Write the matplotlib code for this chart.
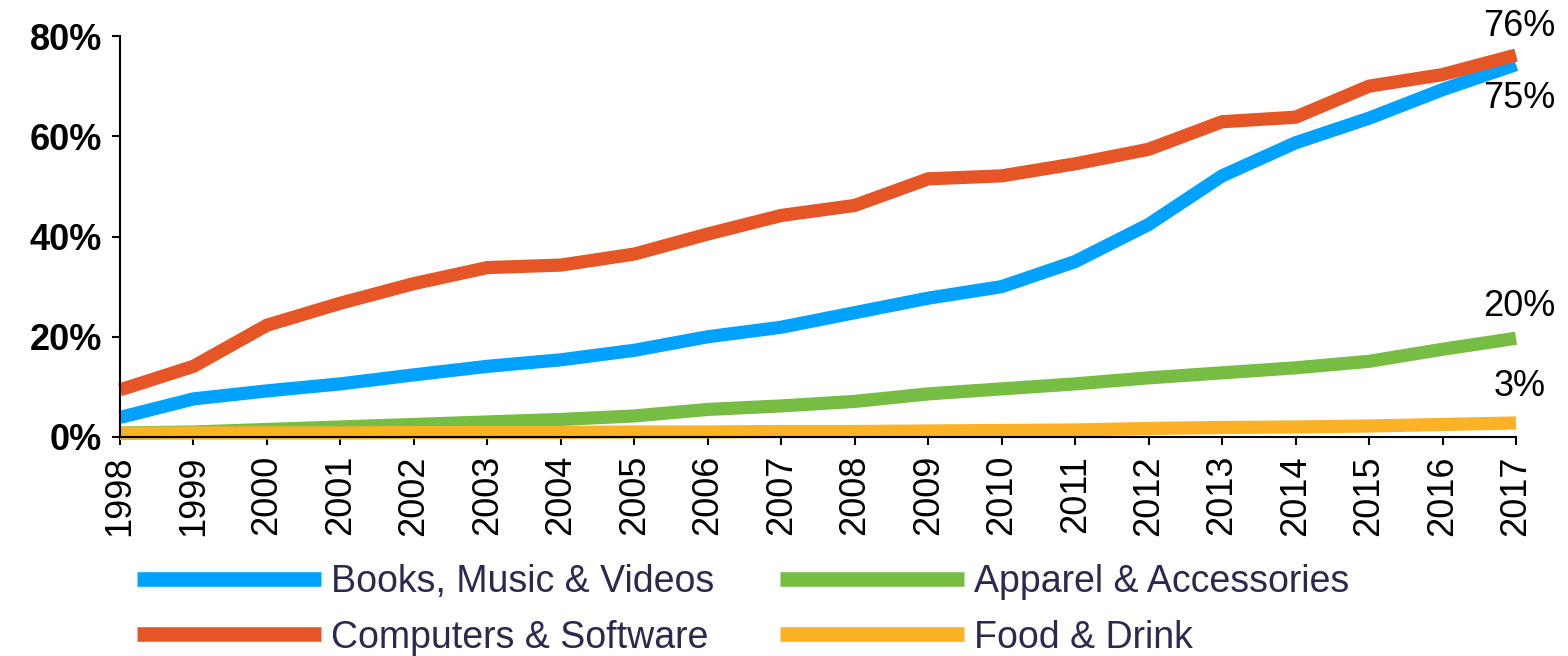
import matplotlib
matplotlib.use("Agg")
import matplotlib.pyplot as plt
from matplotlib.ticker import FuncFormatter

plt.rcParams['font.family'] = ['Liberation Sans', 'DejaVu Sans']

years = list(range(1998, 2018))

books = [3.9, 7.6, 9.2, 10.6, 12.4, 14.1, 15.4, 17.3, 20.0, 21.9,
         24.8, 27.7, 30.0, 35.0, 42.4, 52.1, 58.7, 63.6, 69.3, 74.3]
computers = [9.4, 14.1, 22.3, 26.7, 30.6, 33.8, 34.3, 36.5, 40.5, 44.2,
             46.2, 51.5, 52.1, 54.5, 57.4, 62.9, 63.8, 70.0, 72.3, 76.2]
apparel = [0.8, 1.0, 1.5, 2.0, 2.5, 3.0, 3.5, 4.2, 5.5, 6.2,
           7.1, 8.6, 9.6, 10.6, 11.8, 12.8, 13.8, 15.1, 17.5, 19.7]
food = [0.7, 0.8, 0.8, 0.8, 0.9, 0.9, 0.9, 1.0, 1.0, 1.1,
        1.1, 1.2, 1.3, 1.4, 1.7, 1.9, 2.0, 2.2, 2.5, 2.8]

series_names = ["Books, Music & Videos", "Computers & Software",
                "Apparel & Accessories", "Food & Drink"]
colors = ["#00a2ff", "#e55525", "#78bd43", "#fbb227"]

end_labels = ["75%", "76%", "20%", "3%"]
end_label_y = [67.5, 81.8, 26.0, 10.0]

fig = plt.figure(figsize=(15.68, 6.56), dpi=100)
ax = fig.add_axes([120 / 1568, 1 - 437 / 656, (1516 - 120) / 1568, (437 - 36) / 656])

lines = []
for vals, name, col in zip([books, computers, apparel, food], series_names, colors):
    ln, = ax.plot(years, vals, color=col, lw=9.5, solid_capstyle='butt',
                  solid_joinstyle='miter', label=name, clip_on=False)
    lines.append(ln)

for txt, y in zip(end_labels, end_label_y):
    ax.text(2017.05, y, txt, ha='center', va='center', fontsize=26,
            color='black', clip_on=False)

ax.set_xlim(1998, 2017)
ax.set_ylim(0, 80)
ax.set_xticks(years)
ax.set_xticklabels([str(y) for y in years], rotation=90, fontsize=26)
ax.set_yticks([0, 20, 40, 60, 80])
ax.yaxis.set_major_formatter(FuncFormatter(lambda v, p: f"{v:.0f}%"))
for lab in ax.get_yticklabels():
    lab.set_fontweight('bold')
    lab.set_fontsize(26)

for s in ['top', 'right']:
    ax.spines[s].set_visible(False)
for s in ['left', 'bottom']:
    ax.spines[s].set_linewidth(1.5)
ax.tick_params(axis='both', direction='out', length=6, width=1.5, pad=7)

leg = fig.legend(handles=lines, loc='upper left', bbox_to_anchor=(137 / 1568, 1 - 564 / 656),
                 ncol=2, frameon=False, fontsize=27, labelcolor='#2b2950',
                 handlelength=4.9, handletextpad=0.28, columnspacing=1.75,
                 labelspacing=0.52, borderpad=0, borderaxespad=0)
for h in leg.legend_handles:
    h.set_linewidth(10.5)

fig.savefig("out.png", dpi=100)
